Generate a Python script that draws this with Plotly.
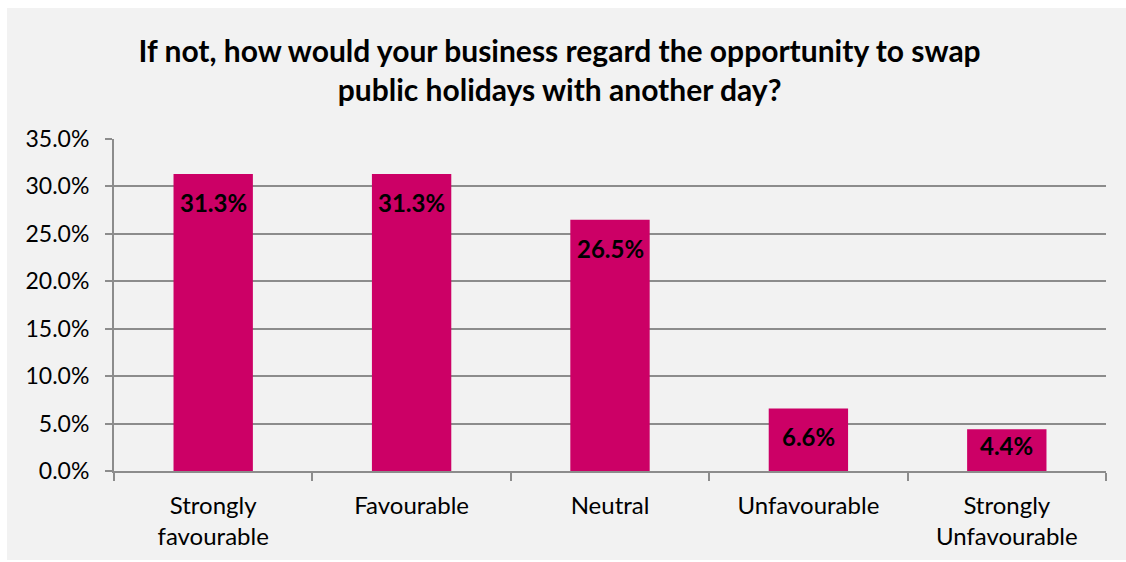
import plotly.graph_objects as go

categories = ["Strongly<br>favourable", "Favourable", "Neutral", "Unfavourable", "Strongly<br>Unfavourable"]
values = [31.3, 31.3, 26.5, 6.6, 4.4]
y_ticks = [0, 5, 10, 15, 20, 25, 30, 35]
y_tick_labels = [f"{v:.1f}%" for v in y_ticks]

BAR_COLOR = "#cc0066"
GRID = "#8c8c8c"
FONT = "Lato, 'Open Sans', sans-serif"

# plot area in pixels: x 114..1106, y 139..471
PW, PH = 992, 332
Y_MAX = 35

fig = go.Figure(
    go.Bar(
        x=categories,
        y=values,
        marker=dict(color=BAR_COLOR, line=dict(width=0)),
        hoverinfo="skip",
    )
)

# value labels just below the top of each bar; short bars get less padding
for c, v in zip(categories, values):
    bar_px = v / Y_MAX * PH
    pad = min(12, max(0, bar_px - 42))
    fig.add_annotation(
        x=c, y=v, xref="x", yref="y",
        text=f"<b>{v:.1f}%</b>",
        showarrow=False,
        yanchor="top",
        yshift=-pad,
        font=dict(family=FONT, size=24, color="#000000"),
    )

fig.update_layout(
    width=1126,
    height=562,
    paper_bgcolor="white",
    plot_bgcolor="#f2f2f2",
    margin=dict(l=114, r=20, t=139, b=91),
    bargap=0.6,
    showlegend=False,
    font=dict(family=FONT, size=22, color="#000000"),
    title=dict(
        text="If not, how would your business regard the opportunity to swap<br>public holidays with another day?",
        x=0.497,
        xanchor="center",
        y=0.89,
        yanchor="middle",
        font=dict(family=FONT, size=30, color="#000000", weight="bold"),
    ),
    shapes=[
        dict(
            type="rect", xref="paper", yref="paper", layer="below",
            x0=-107 / PW, x1=1012 / PW, y0=-89 / PH, y1=463 / PH,
            fillcolor="#f2f2f2", line=dict(width=0),
        )
    ],
)

fig.update_xaxes(
    showgrid=False,
    ticks="outside",
    tickson="boundaries",
    ticklen=8,
    tickcolor=GRID,
    tickwidth=2,
    showline=True,
    linecolor=GRID,
    linewidth=2,
    ticklabelstandoff=12,
    tickfont=dict(family=FONT, size=24),
)

fig.update_yaxes(
    range=[0, Y_MAX],
    tickvals=y_ticks,
    ticktext=y_tick_labels,
    showgrid=True,
    gridcolor=GRID,
    gridwidth=2,
    zeroline=False,
    showline=True,
    linecolor=GRID,
    linewidth=2,
    ticks="outside",
    ticklen=7,
    tickcolor=GRID,
    tickwidth=2,
    ticklabelstandoff=11,
    tickfont=dict(family=FONT, size=23),
)

fig.write_html("out.html")
